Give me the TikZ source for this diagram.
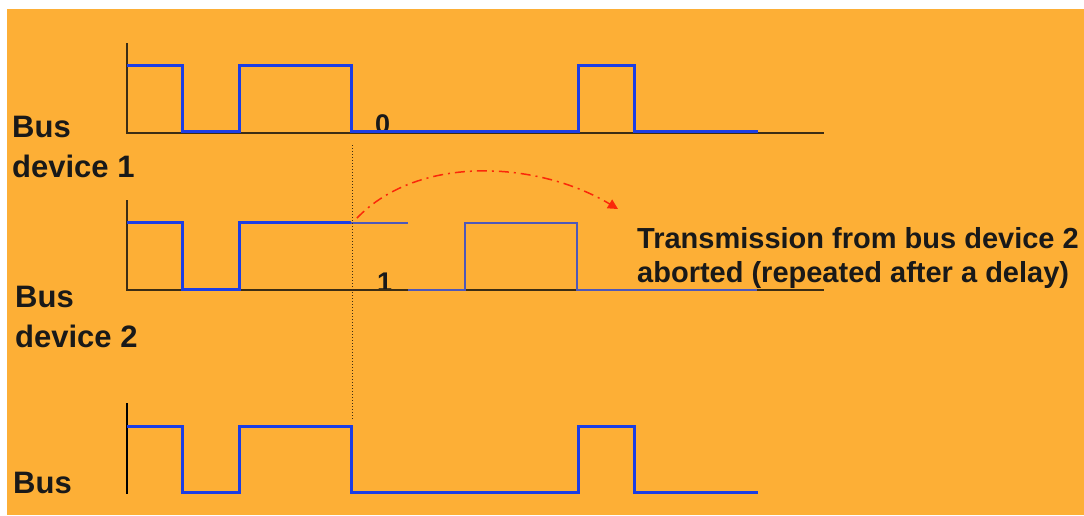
\documentclass[tikz,border=0pt]{standalone}
\usepackage{fontspec}
\setmainfont{Liberation Sans}
\usepackage{tikz}
\usetikzlibrary{positioning, arrows.meta}

\definecolor{bgorange}{RGB}{253,175,54}
\definecolor{sigblue}{RGB}{28,62,228}
\definecolor{thinblue}{RGB}{78,88,185}
\definecolor{axisdark}{RGB}{60,45,20}
\definecolor{arrred}{RGB}{250,40,10}

\begin{document}
\begin{tikzpicture}[x=1pt, y=-1pt,
    every node/.style={inner sep=0pt, text=black!90},
    lab/.style={anchor=base west, align=left, font=\fontsize{31}{40}\selectfont\bfseries},
    note/.style={anchor=base west, align=left, font=\fontsize{29}{34}\selectfont\bfseries},
    bit/.style={anchor=base west, font=\fontsize{27}{30}\selectfont\bfseries},
    sig/.style={draw=sigblue, line width=3pt, line join=miter},
    axis/.style={draw=axisdark, line width=1.5pt}]
    \useasboundingbox (0,0) rectangle (1084,515);
    \fill[white] (0,0) rectangle (1084,515);
    \fill[bgorange] (7,9) rectangle (1084,515);

    % Labels (base = last line)
    \node[lab] (L_D1) at (12,177) {Bus\\device 1};
    \node[lab] (L_D2) at (15,347) {Bus\\device 2};
    \node[lab] (L_BUS) at (13,493) {Bus};
    \node[bit] (B_0) at (375,133) {0};
    \node[bit] (B_1) at (377,291) {1};
    \node[note] (N_AB) at (637,282) {Transmission from bus device 2\\aborted (repeated after a delay)};

    % Bus device 1
    \draw[axis] (127,43) -- (127,133) -- (824,133);
    \draw[sig] (127,65) -- (182,65) -- (182,131) -- (239,131) -- (239,65) -- (351,65) -- (351,131)
        -- (578,131) -- (578,65) -- (634,65) -- (634,131) -- (758,131);

    % Bus device 2
    \draw[axis] (127,200) -- (127,290) -- (824,290);
    \draw[sig] (127,222) -- (182,222) -- (182,289) -- (239,289) -- (239,222) -- (351,222);
    \draw[draw=thinblue, line width=1.4pt] (351,223) -- (408,223);
    \draw[draw=thinblue, line width=2pt] (408,290) -- (465,290) -- (465,223) -- (577,223) -- (577,290) -- (757,290);

    % Bus
    \draw[draw=black, line width=1.2pt] (127,403) -- (127,494);
    \draw[sig] (127,426) -- (182,426) -- (182,492) -- (239,492) -- (239,426) -- (351,426) -- (351,492)
        -- (578,492) -- (578,426) -- (634,426) -- (634,492) -- (758,492);

    % Collision instant
    \draw[axisdark, line width=1pt, dotted] (352,145) -- (352,420);
    \coordinate (A_S) at (357,218);
    \coordinate (A_E) at (618,209);
    \draw[arrred, line width=1.5pt, dash pattern=on 10pt off 5pt on 2pt off 5pt,
        -{Triangle[length=10pt, width=10pt]}]
        (A_S) .. controls (420,153) and (540,162) .. (A_E);
\end{tikzpicture}
\end{document}
